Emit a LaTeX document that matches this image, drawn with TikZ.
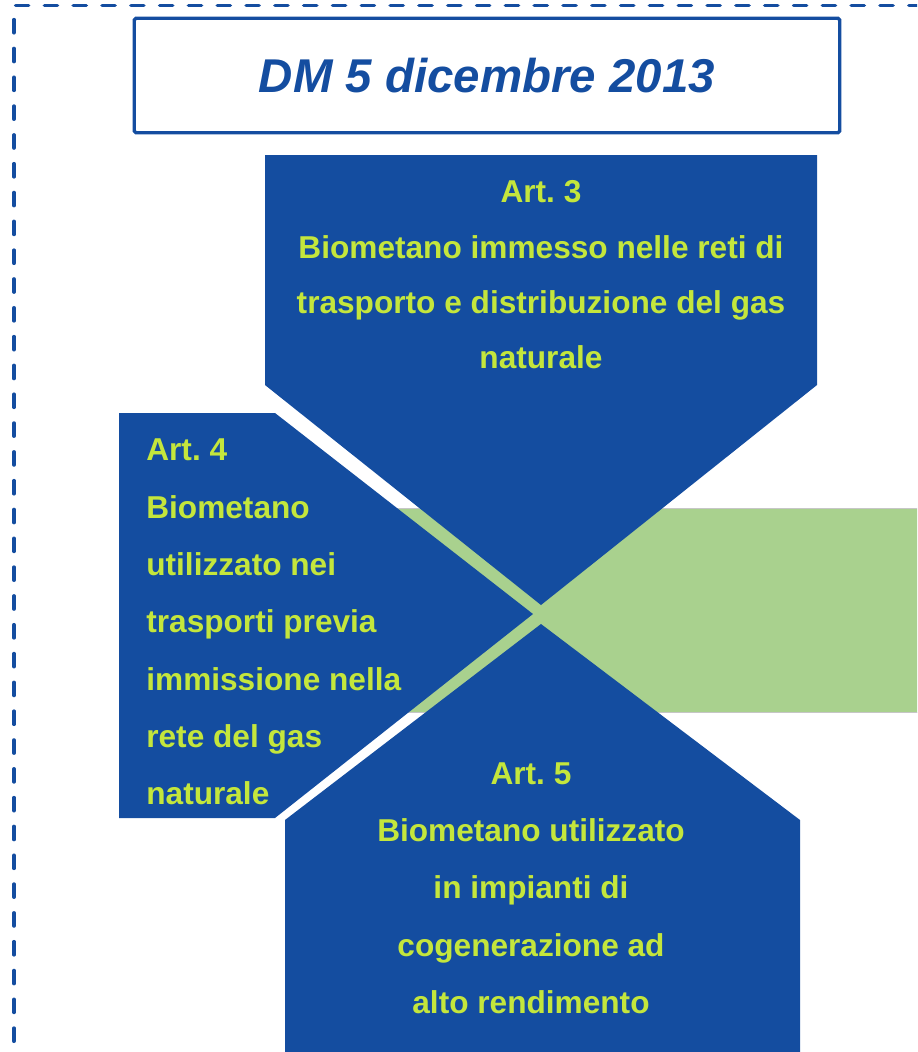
\documentclass[tikz,border=0pt]{standalone}
\usepackage{fontspec}
\setmainfont{Liberation Sans}
\usepackage{xcolor}
\definecolor{artblue}{RGB}{20,77,160}
\definecolor{textgreen}{RGB}{196,230,60}
\definecolor{lightgreen}{RGB}{169,209,142}
\frenchspacing

\begin{document}
\begin{tikzpicture}[x=0.02cm, y=-0.02cm,
    arttext/.style={text=textgreen, inner sep=0pt, align=center,
      font=\bfseries\fontsize{18}{32.6}\selectfont},
    titlebox/.style={draw=artblue, line width=1.9pt, text=artblue,
      minimum width=14.11cm, minimum height=2.29cm, rounded corners=1pt,
      font=\bfseries\itshape\fontsize{27}{32}\selectfont}]
    \useasboundingbox (0,0) rectangle (917,1052);
    \clip (0,0) rectangle (917,1052);

    % Frame
    \draw[artblue, line width=2.1pt, line cap=round, dash pattern=on 7.4pt off 9pt]
      (14,1070) -- (14,5.5) -- (940,5.5);
    \node[titlebox] (title) at (487,75.5) {DM 5 dicembre 2013};

    % Green band behind
    \fill[lightgreen, draw=gray!45, line width=0.5pt] (300,508.5) rectangle (940,712.5);

    % Blue arrows
    \fill[artblue] (265,155) -- (817,155) -- (817,385) -- (541,605) -- (265,385) -- cycle;
    \fill[artblue] (119,413) -- (275,413) -- (533,614) -- (275,818) -- (119,818) -- cycle;
    \fill[artblue] (285,820) -- (541,624) -- (800,820) -- (800,1070) -- (285,1070) -- cycle;

    % Texts
    \node[arttext, font=\bfseries\fontsize{18}{31.5}\selectfont] (art3) at (541,275)
      {Art. 3\\Biometano immesso nelle reti di\\trasporto e distribuzione del gas\\naturale};
    \node[arttext, align=left, anchor=west] (art4) at (146,622)
      {Art. 4\\Biometano\\utilizzato nei\\trasporti previa\\immissione nella\\rete del gas\\naturale};
    \node[arttext] (art5) at (531,888)
      {Art. 5\\Biometano utilizzato\\in impianti di\\cogenerazione ad\\alto rendimento};
\end{tikzpicture}
\end{document}
